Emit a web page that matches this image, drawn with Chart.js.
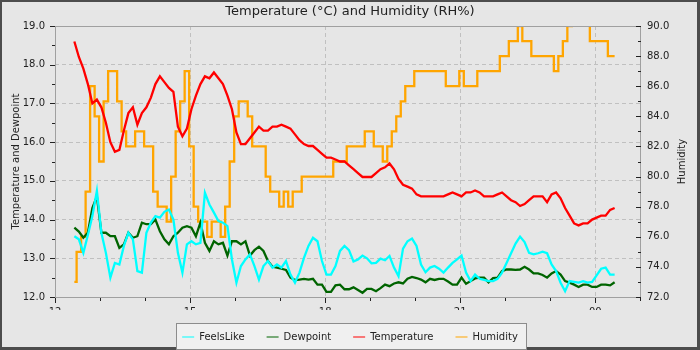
<!DOCTYPE html>
<html>
<head>
<meta charset="utf-8">
<title>Temperature and Humidity</title>
<script src="https://cdn.jsdelivr.net/npm/chart.js@4.4.1/dist/chart.umd.min.js"></script>
<style>
  html, body { margin: 0; padding: 0; background: #e6e6e6; }
  #chart { display: block; }
</style>
</head>
<body>
<canvas id="chart" width="700" height="350"></canvas>
<script>
// readings every 6 minutes, from about 12:26 until 00:26
const startHour = 12.43;
const stepHours = 0.1;

const feelsLike = [
  13.57, 13.49, 13.14, 13.6, 14.09, 14.74, 13.66, 13.14, 12.5, 12.88,
  12.84, 13.32, 13.66, 13.49, 12.67, 12.63, 13.66, 13.92, 14.09, 14.05,
  14.2, 14.26, 14.0, 13.14, 12.63, 13.36, 13.44, 13.36, 13.4, 14.69,
  14.39, 14.18, 13.96, 13.92, 13.83, 12.97, 12.37, 12.8, 12.97, 13.1,
  12.8, 12.45, 12.8, 12.93, 12.76, 12.84, 12.76, 12.93, 12.58, 12.37,
  12.63, 13.01, 13.32, 13.53, 13.44, 12.93, 12.58, 12.58, 12.8, 13.19,
  13.32, 13.21, 12.92, 12.97, 13.07, 13.0, 12.87, 12.88, 12.99, 12.95,
  13.06, 12.76, 12.54, 13.25, 13.44, 13.51, 13.32, 12.84, 12.64, 12.76,
  12.8, 12.73, 12.63, 12.76, 12.88, 12.97, 13.07, 12.63, 12.41, 12.58,
  12.47, 12.44, 12.41, 12.41, 12.47, 12.63, 12.88, 13.13, 13.38, 13.56,
  13.42, 13.14, 13.1, 13.13, 13.17, 13.13, 12.84, 12.67, 12.37, 12.15,
  12.41, 12.39, 12.37, 12.41, 12.37, 12.39, 12.56, 12.73, 12.76, 12.58,
  12.58
];

const dewpoint = [
  13.79, 13.69, 13.53, 13.66, 14.3, 14.6, 13.66, 13.66, 13.57, 13.57,
  13.27, 13.36, 13.66, 13.53, 13.57, 13.92, 13.88, 13.88, 14.0, 13.7,
  13.49, 13.36, 13.57, 13.66, 13.79, 13.83, 13.79, 13.57, 13.92, 13.4,
  13.19, 13.44, 13.36, 13.4, 13.07, 13.44, 13.44, 13.36, 13.44, 13.07,
  13.21, 13.3, 13.19, 12.93, 12.78, 12.76, 12.73, 12.7, 12.5, 12.44,
  12.45, 12.47, 12.45, 12.47, 12.32, 12.32, 12.13, 12.13, 12.3, 12.32,
  12.2, 12.2, 12.25, 12.18, 12.11, 12.21, 12.21, 12.15, 12.23, 12.32,
  12.28, 12.35, 12.38, 12.35, 12.47, 12.52, 12.49, 12.45, 12.38, 12.47,
  12.44, 12.47, 12.47, 12.4, 12.32, 12.32, 12.5, 12.34, 12.41, 12.48,
  12.5, 12.5, 12.38, 12.49, 12.5, 12.67, 12.71, 12.71, 12.7, 12.71,
  12.78, 12.71, 12.61, 12.61, 12.57, 12.5, 12.61, 12.67, 12.58, 12.41,
  12.37, 12.32, 12.26, 12.32, 12.32, 12.26, 12.26, 12.32, 12.32, 12.3,
  12.38
];

const temperature = [
  18.6, 18.2, 17.9, 17.5, 17.0, 17.1, 16.9, 16.5, 16.0, 15.75,
  15.8, 16.3, 16.75, 16.9, 16.45, 16.75, 16.9, 17.15, 17.5, 17.7,
  17.55, 17.4, 17.3, 16.4, 16.15, 16.35, 16.85, 17.2, 17.5, 17.7,
  17.65, 17.8, 17.65, 17.5, 17.2, 16.85, 16.25, 15.95, 15.95, 16.1,
  16.25, 16.4, 16.3, 16.3, 16.4, 16.4, 16.45, 16.4, 16.35, 16.2,
  16.05, 15.95, 15.9, 15.9, 15.8, 15.7, 15.6, 15.6, 15.55, 15.5,
  15.5, 15.4, 15.3, 15.2, 15.1, 15.1, 15.1, 15.2, 15.3, 15.35,
  15.45, 15.3, 15.05, 14.9, 14.85, 14.8, 14.65, 14.6, 14.6, 14.6,
  14.6, 14.6, 14.6, 14.65, 14.7, 14.65, 14.6, 14.7, 14.7, 14.75,
  14.7, 14.6, 14.6, 14.6, 14.65, 14.7, 14.6, 14.5, 14.45, 14.35,
  14.4, 14.5, 14.6, 14.6, 14.6, 14.45, 14.65, 14.7, 14.55, 14.3,
  14.1, 13.9, 13.85, 13.9, 13.9, 14.0, 14.05, 14.1, 14.1, 14.25,
  14.3
];

const humidity = [
  73, 75, 76, 79, 86, 84, 81, 85, 87, 87,
  85, 83, 82, 82, 83, 83, 82, 82, 79, 78,
  78, 77, 80, 83, 85, 87, 82, 78, 77, 77,
  76, 77, 77, 76, 78, 81, 84, 85, 85, 84,
  82, 82, 82, 80, 79, 79, 78, 79, 78, 79,
  79, 80, 80, 80, 80, 80, 80, 80, 81, 81,
  81, 82, 82, 82, 82, 83, 83, 82, 82, 81,
  82, 83, 84, 85, 86, 86, 87, 87, 87, 87,
  87, 87, 87, 86, 86, 86, 87, 86, 86, 86,
  87, 87, 87, 87, 87, 88, 88, 89, 89, 90,
  89, 89, 88, 88, 88, 88, 88, 87, 88, 89,
  90, 91, 91, 91, 91, 89, 89, 89, 89, 88,
  88
];

const times = temperature.map((_, i) => startHour + i * stepHours);
const toPoints = values => values.map((v, i) => ({ x: times[i], y: v }));

const isWhole = v => Math.abs(v - Math.round(v)) < 1e-6;
const FONT = 'DejaVu Sans';

// background, legend box, plot frame, tick marks and right axis title
const decorations = {
    id: 'decorations',
    beforeDraw(chart) {
        const { ctx, width, height } = chart;
        ctx.save();
        ctx.fillStyle = '#4d4d4d';
        ctx.fillRect(0, 0, width, height);
        ctx.fillStyle = '#e6e6e6';
        ctx.fillRect(2, 2, width - 5, height - 5);

        const boxes = chart.legend && chart.legend.legendHitBoxes;
        if (boxes && boxes.length) {
            const left = Math.round(Math.min(...boxes.map(b => b.left)) - 6);
            const right = Math.round(Math.max(...boxes.map(b => b.left + b.width)) + 8);
            const mid = boxes[0].top + boxes[0].height / 2;
            const top = Math.round(mid - 14);
            ctx.fillStyle = '#f0f0f0';
            ctx.fillRect(left, top, right - left, 26);
            ctx.strokeStyle = '#8c8c8c';
            ctx.lineWidth = 1;
            ctx.strokeRect(left + 0.5, top + 0.5, right - left, 26);
        }
        ctx.restore();
    },
    afterDatasetsDraw(chart) {
        const { ctx, chartArea: a, scales } = chart;
        ctx.save();
        ctx.lineWidth = 1;
        ctx.strokeStyle = '#a0a0a0';
        ctx.strokeRect(a.left + 0.5, a.top + 0.5, a.right - a.left - 1, a.bottom - a.top);

        ctx.strokeStyle = '#222';
        ctx.beginPath();
        scales.x.ticks.forEach(t => {
            const x = Math.round(scales.x.getPixelForValue(t.value)) + 0.5;
            const len = isWhole(t.value / 3) ? 5 : 3;
            ctx.moveTo(x, a.bottom + 1);
            ctx.lineTo(x, a.bottom + 1 + len);
        });
        scales.y.ticks.forEach(t => {
            const y = Math.round(scales.y.getPixelForValue(t.value)) + 0.5;
            const len = isWhole(t.value) ? 5 : 3;
            ctx.moveTo(a.left, y);
            ctx.lineTo(a.left - len, y);
        });
        scales.y1.ticks.forEach(t => {
            const y = Math.round(scales.y1.getPixelForValue(t.value)) + 0.5;
            const len = isWhole(t.value / 2) ? 5 : 3;
            ctx.moveTo(a.right, y);
            ctx.lineTo(a.right - len, y);
        });
        ctx.stroke();

        ctx.translate(682, (a.top + a.bottom) / 2);
        ctx.rotate(-Math.PI / 2);
        ctx.fillStyle = '#222';
        ctx.font = '10px "' + FONT + '"';
        ctx.textAlign = 'center';
        ctx.textBaseline = 'middle';
        ctx.fillText('Humidity', 0, 0);
        ctx.restore();
    }
};

Chart.defaults.font.family = FONT;
Chart.defaults.font.size = 10;
Chart.defaults.color = '#222';

const ctx = document.getElementById('chart').getContext('2d');
const weatherChart = new Chart(ctx, {
    type: 'line',
    data: {
        datasets: [
            { label: 'FeelsLike', data: toPoints(feelsLike), borderColor: '#00ffff', yAxisID: 'y' },
            { label: 'Dewpoint', data: toPoints(dewpoint), borderColor: '#006400', yAxisID: 'y' },
            { label: 'Temperature', data: toPoints(temperature), borderColor: '#ff0000', yAxisID: 'y' },
            { label: 'Humidity', data: toPoints(humidity), borderColor: '#ffa500', yAxisID: 'y1', stepped: 'middle' }
        ]
    },
    options: {
        responsive: false,
        animation: false,
        devicePixelRatio: 1,
        layout: { padding: { left: 0, right: 0, top: 0, bottom: -2 } },
        elements: {
            point: { radius: 0 },
            line: { borderWidth: 2.3, tension: 0, fill: false }
        },
        plugins: {
            title: {
                display: true,
                text: 'Temperature (°C) and Humidity (RH%)',
                font: { size: 13, weight: 'normal', lineHeight: '16px' },
                padding: { top: 4, bottom: 6 },
                color: '#222'
            },
            legend: {
                position: 'bottom',
                labels: {
                    usePointStyle: true,
                    pointStyle: 'line',
                    pointStyleWidth: 12,
                    padding: 22,
                    font: { size: 10 },
                    color: '#222'
                }
            },
            tooltip: { enabled: false }
        },
        scales: {
            x: {
                type: 'linear',
                min: 12,
                max: 25.016,
                afterFit: s => { s.height = 13; },
                grid: {
                    drawTicks: false,
                    color: c => {
                        const v = c.tick ? c.tick.value : 0;
                        return isWhole(v / 3) && v > 12 && v < 25 ? '#c0c0c0' : 'rgba(0,0,0,0)';
                    }
                },
                border: { display: false, dash: [4, 3] },
                ticks: {
                    stepSize: 1,
                    includeBounds: false,
                    autoSkip: false,
                    maxRotation: 0,
                    minRotation: 0,
                    padding: 9,
                    callback: v => isWhole(v / 3) ? String(Math.round(v) % 24).padStart(2, '0') : ''
                }
            },
            y: {
                position: 'left',
                min: 12,
                max: 19,
                afterFit: s => { s.width = 55; },
                title: {
                    display: true,
                    text: 'Temperature and Dewpoint',
                    font: { size: 10 },
                    padding: { top: 10, bottom: 0 }
                },
                grid: {
                    drawTicks: false,
                    color: c => {
                        const v = c.tick ? c.tick.value : 0;
                        return isWhole(v) && v > 12 && v < 19 ? '#c0c0c0' : 'rgba(0,0,0,0)';
                    }
                },
                border: { display: false, dash: [4, 3] },
                ticks: {
                    stepSize: 0.5,
                    autoSkip: false,
                    padding: 10,
                    callback: v => isWhole(v) ? v.toFixed(1) : ''
                }
            },
            y1: {
                position: 'right',
                min: 72,
                max: 90,
                afterFit: s => { s.width = 59; },
                grid: { drawOnChartArea: false, drawTicks: false },
                border: { display: false },
                ticks: {
                    stepSize: 1,
                    autoSkip: false,
                    padding: 6,
                    callback: v => isWhole(v / 2) ? v.toFixed(1) : ''
                }
            }
        }
    },
    plugins: [decorations]
});
</script>
</body>
</html>
